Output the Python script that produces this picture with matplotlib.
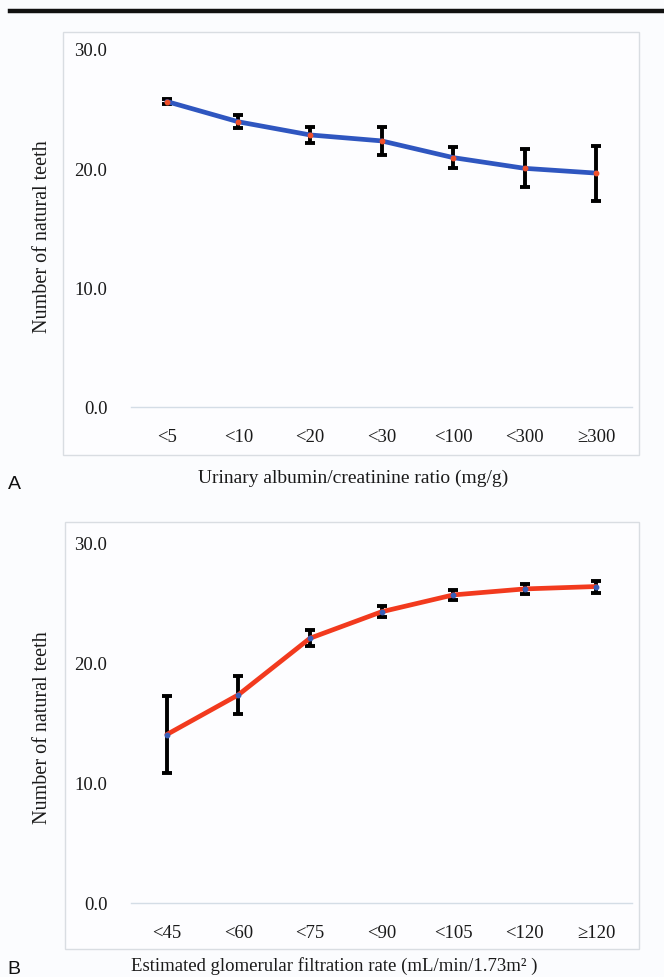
import matplotlib
matplotlib.use("Agg")
import matplotlib.pyplot as plt
from matplotlib.patches import Rectangle
from matplotlib.lines import Line2D

# panel A: urinary albumin/creatinine ratio
uacr_labels = ["<5", "<10", "<20", "<30", "<100", "<300", "\u2265300"]
uacr_teeth = [25.6, 23.9, 22.8, 22.3, 20.9, 20.0, 19.6]
uacr_err = [0.2, 0.55, 0.7, 1.15, 0.9, 1.6, 2.3]

# panel B: estimated glomerular filtration rate
egfr_labels = ["<45", "<60", "<75", "<90", "<105", "<120", "\u2265120"]
egfr_teeth = [14.0, 17.3, 22.0, 24.2, 25.6, 26.1, 26.3]
egfr_err = [3.2, 1.6, 0.65, 0.45, 0.4, 0.45, 0.5]

yticks = [0, 10, 20, 30]
serif = ["Liberation Serif", "DejaVu Serif"]
W, H = 664, 978
BG = "#fbfcfe"

fig = plt.figure(figsize=(W / 100, H / 100), dpi=100, facecolor=BG)


def px(x0, y0, x1, y1):
    # pixel box (top-left origin) -> figure fraction rect
    return [x0 / W, 1 - y1 / H, (x1 - x0) / W, (y1 - y0) / H]


def panel(rect, labels, vals, errs, line_col, dot_col):
    ax = fig.add_axes(rect)
    ax.set_facecolor("none")
    xs = list(range(len(labels)))
    ax.errorbar(xs, vals, yerr=errs, fmt="none", ecolor="black",
                elinewidth=2.8, capsize=3.8, capthick=2.8, zorder=2)
    ax.plot(xs, vals, color=line_col, lw=3.4, zorder=3,
            solid_capstyle="round")
    ax.plot(xs, vals, "o", color=dot_col, ms=3.2, zorder=4)
    ax.set_xlim(-0.5, len(labels) - 0.5)
    ax.set_ylim(0, 30)
    ax.set_yticks(yticks)
    ax.set_yticklabels(["%.1f" % v for v in yticks])
    ax.set_xticks(xs)
    ax.set_xticklabels(labels)
    for s in ["top", "right", "left"]:
        ax.spines[s].set_visible(False)
    ax.spines["bottom"].set_color("#d4dde6")
    ax.spines["bottom"].set_linewidth(1.0)
    ax.tick_params(length=0, labelsize=13.5, colors="#1a1a1a")
    ax.tick_params(axis="y", pad=17)
    ax.tick_params(axis="x", pad=15)
    for t in ax.get_xticklabels() + ax.get_yticklabels():
        t.set_family(serif)
    return ax


# chart frames
for box in [(63, 33, 639, 456), (65, 523, 639, 950)]:
    r = px(*box)
    fig.add_artist(Rectangle((r[0], r[1]), r[2], r[3], transform=fig.transFigure,
                             facecolor="#fdfdff", edgecolor="#d9dde2", lw=1.0,
                             zorder=0))

# rule at the top of the page
fig.add_artist(Line2D([10 / W, 1], [1 - 12 / H, 1 - 12 / H], color="#111111",
                      lw=3.2, transform=fig.transFigure))

panel(px(131, 50, 632, 408), uacr_labels, uacr_teeth, uacr_err,
      "#2f56c0", "#f0502a")
panel(px(131, 543, 632, 904), egfr_labels, egfr_teeth, egfr_err,
      "#f23a1e", "#3a5fb8")

fig.text(43 / W, 1 - 237 / H, "Number of natural teeth", rotation=90,
         ha="center", va="center", fontsize=14.5, family=serif, color="#1a1a1a")
fig.text(43 / W, 1 - 728 / H, "Number of natural teeth", rotation=90,
         ha="center", va="center", fontsize=14.5, family=serif, color="#1a1a1a")
fig.text(353 / W, 1 - 478 / H, "Urinary albumin/creatinine ratio (mg/g)",
         ha="center", va="center", fontsize=14, family=serif, color="#1a1a1a")
fig.text(334 / W, 1 - 966 / H,
         "Estimated glomerular filtration rate (mL/min/1.73m\u00b2 )",
         ha="center", va="center", fontsize=13.5, family=serif, color="#1a1a1a")

fig.text(14 / W, 1 - 485 / H, "A", ha="center", va="center", fontsize=14,
         family="Liberation Sans", color="#111111")
fig.text(14 / W, 1 - 970 / H, "B", ha="center", va="center", fontsize=14,
         family="Liberation Sans", color="#111111")

fig.savefig("out.png", dpi=100, facecolor=BG)
